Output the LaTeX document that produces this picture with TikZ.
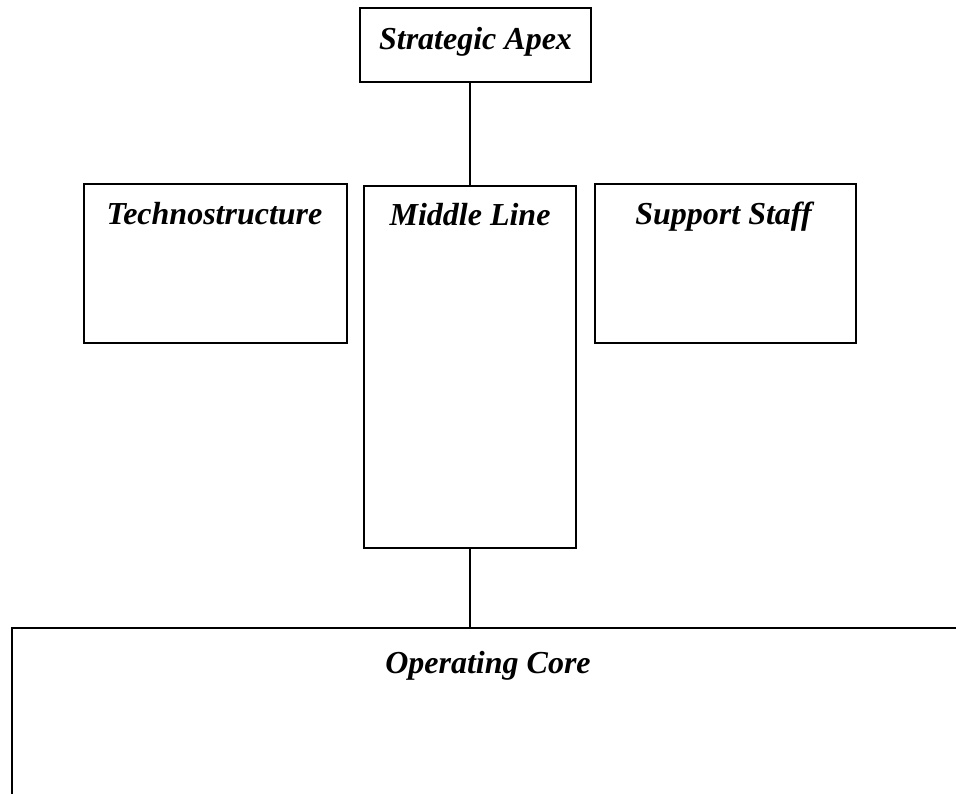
\documentclass[tikz,border=0pt]{standalone}
\usepackage{fontspec}
\setmainfont{Liberation Serif}
\usetikzlibrary{positioning}

\begin{document}
\begin{tikzpicture}[x=1pt, y=-1pt,
    part/.style={draw, line width=1.6pt, inner sep=0pt},
    title/.style={font=\fontsize{32}{38}\selectfont\bfseries\itshape, anchor=north, inner sep=0pt},
    link/.style={line width=1.6pt}]
    \useasboundingbox (0,0) rectangle (956,793);
    \clip (0,0) rectangle (956,793);
    % boxes
    \node[part, minimum width=231pt, minimum height=74pt] (apex) at (475.5,45) {};
    \node[part, minimum width=263pt, minimum height=159pt] (techno) at (215.5,263.5) {};
    \node[part, minimum width=212pt, minimum height=362pt] (middle) at (470,367) {};
    \node[part, minimum width=261pt, minimum height=159pt] (support) at (725.5,263.5) {};
    \node[part, minimum width=960pt, minimum height=200pt] (core) at (492,728) {};
    % titles
    \node[title, below=20pt of apex.north] (apexlbl) {Strategic Apex};
    \node[title, below=19pt of techno.north, xshift=-1pt] (technolbl) {Technostructure};
    \node[title, below=18pt of middle.north] (middlelbl) {Middle Line};
    \node[title, below=19pt of support.north, xshift=-2pt] (supportlbl) {Support Staff};
    \node[title, below=24pt of core.north, xshift=-4pt] (corelbl) {Operating Core};
    % connectors
    \draw[link] (apex.south -| middle.north) -- (middle.north);
    \draw[link] (middle.south) -- (core.north -| middle.south);
\end{tikzpicture}
\end{document}
